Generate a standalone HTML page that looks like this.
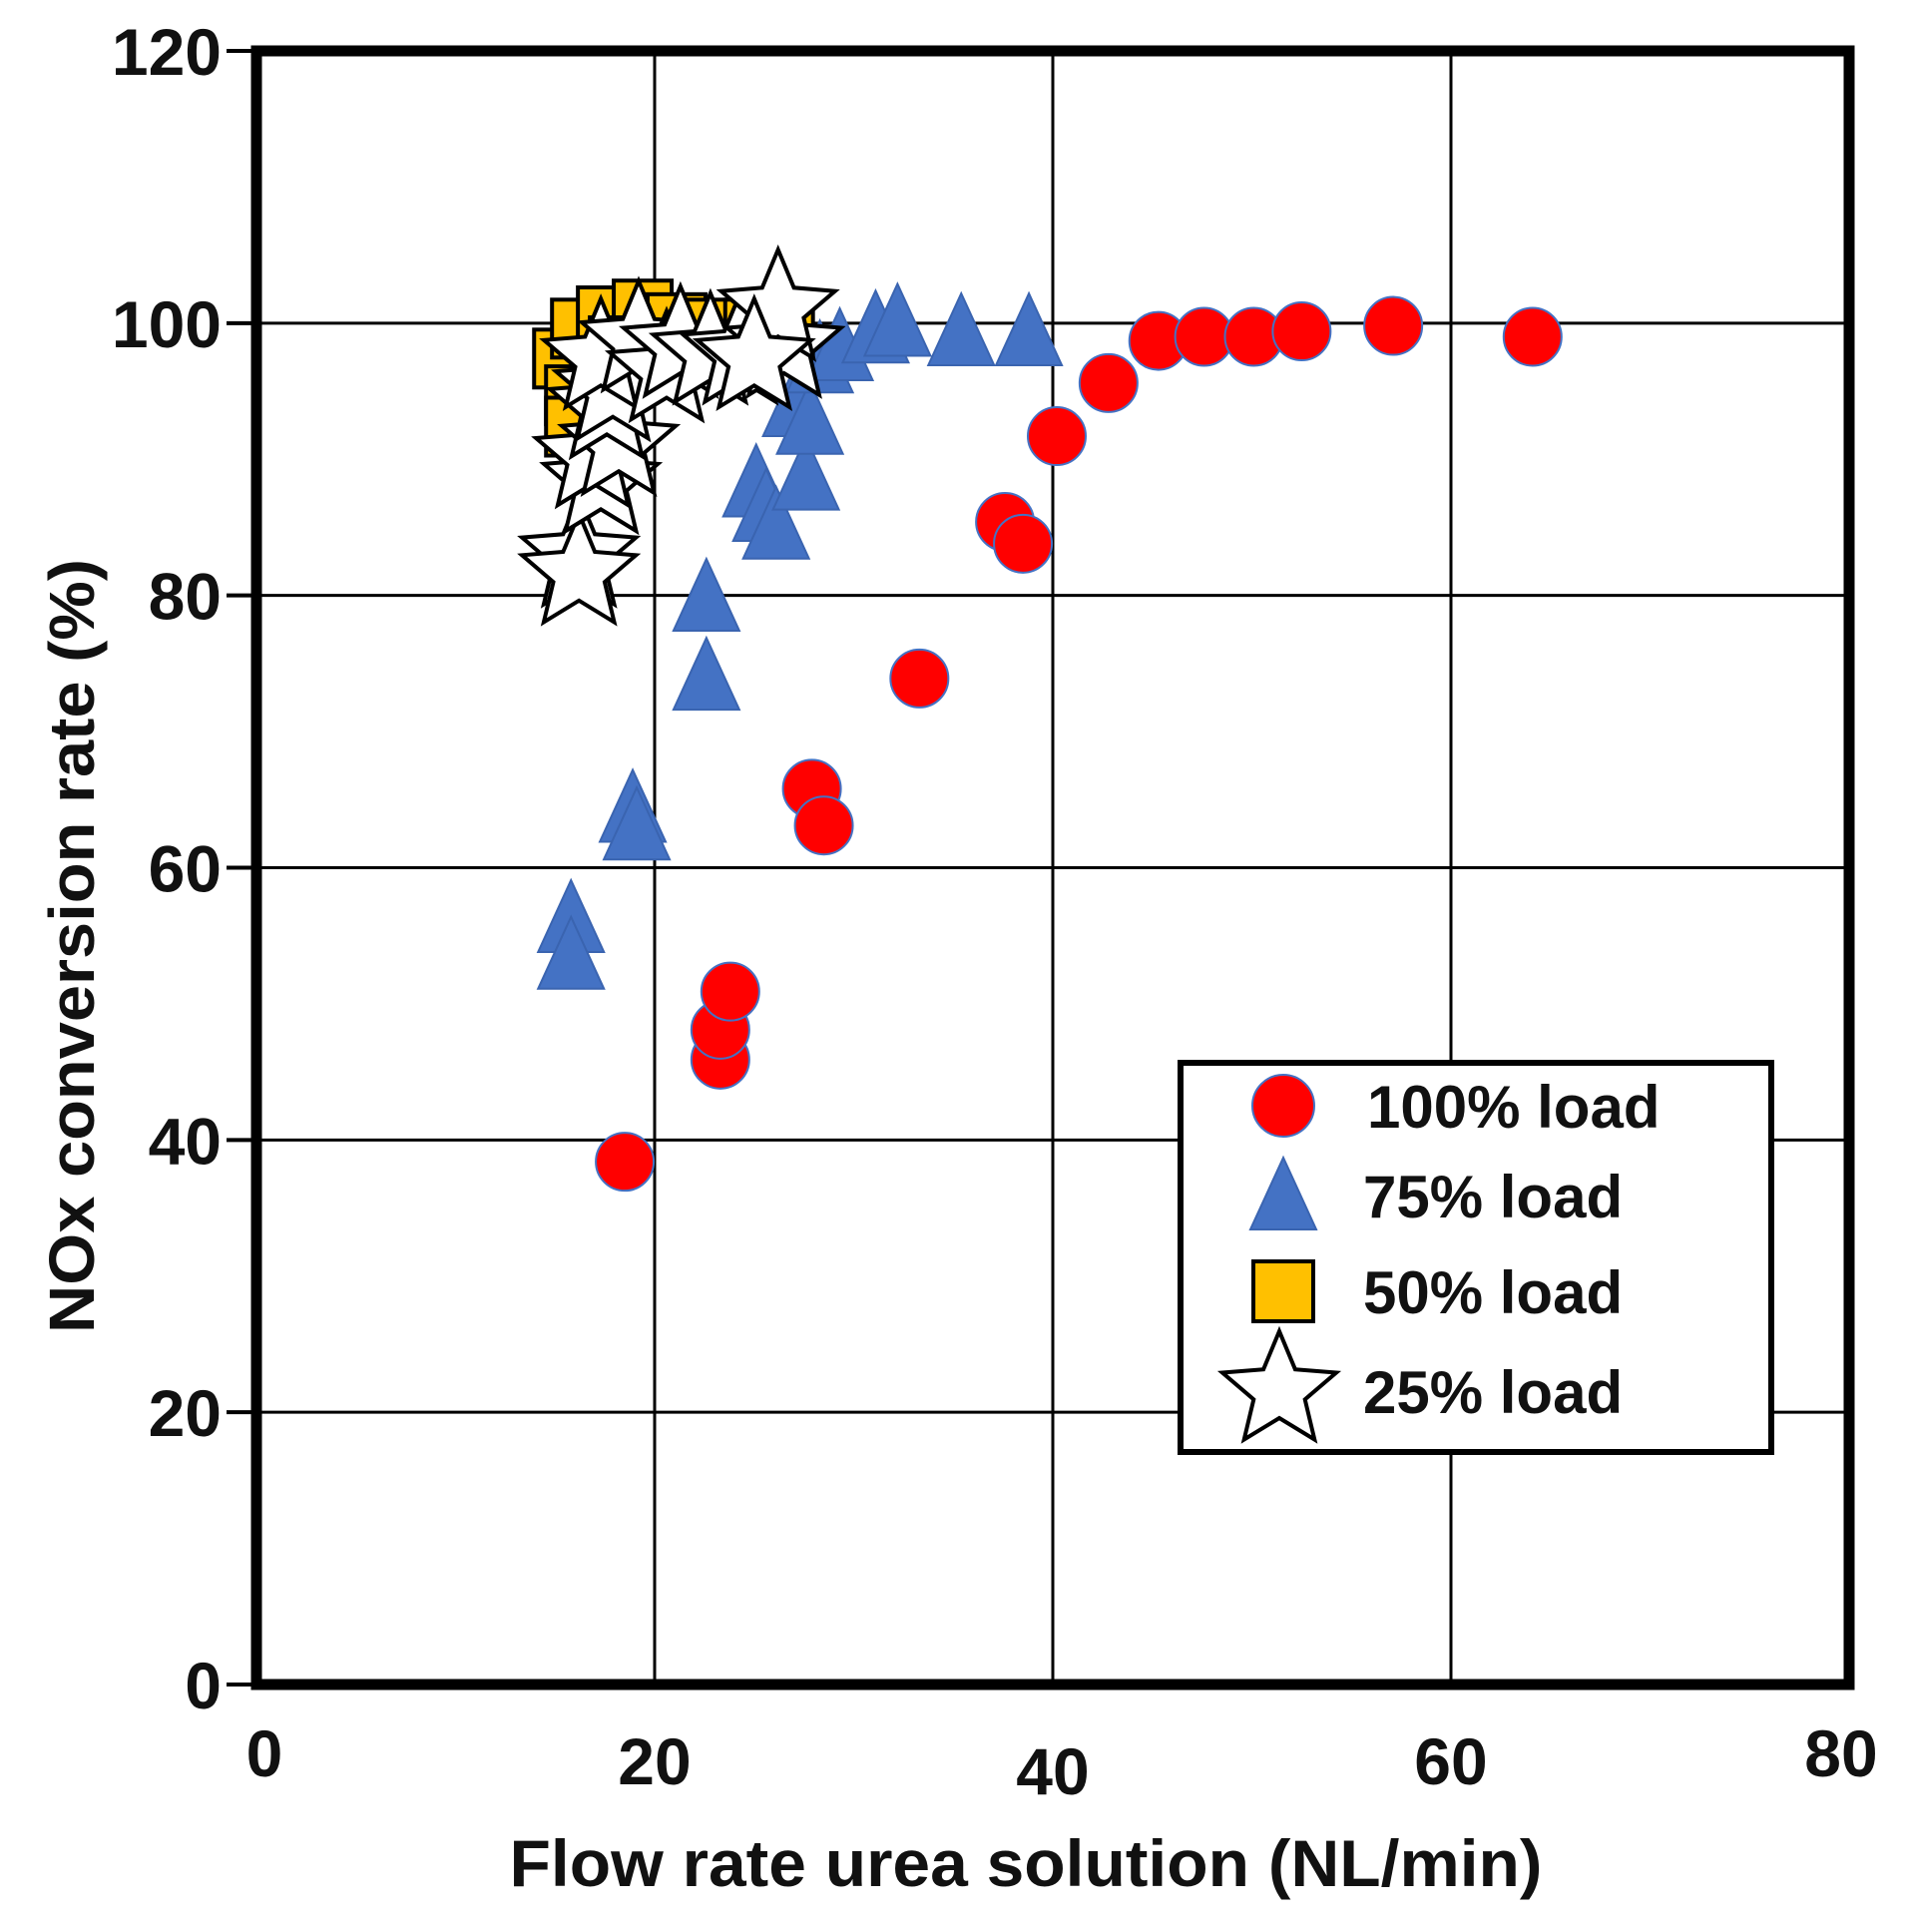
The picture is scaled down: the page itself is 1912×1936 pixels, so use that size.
<!DOCTYPE html>
<html><head><meta charset="utf-8"><style>
html,body{margin:0;padding:0;background:#fff;}
svg{display:block;font-family:"Liberation Sans",Arial,sans-serif;font-weight:bold;}
</style></head><body>
<svg id="chart" width="1912" height="1936" viewBox="0 0 1912 1936" xmlns="http://www.w3.org/2000/svg">
<g id="grid"></g>
<g id="marks"></g>
<g id="axes"></g>
<text x="0" y="0" transform="translate(94,948) rotate(-90)" text-anchor="middle" font-size="64" textLength="776" lengthAdjust="spacingAndGlyphs" fill="#111">NOx conversion rate (%)</text>
<text x="1028" y="1890" text-anchor="middle" font-size="66" textLength="1035" lengthAdjust="spacingAndGlyphs" fill="#111">Flow rate urea solution (NL/min)</text>
<g>
<rect x="1183" y="1065" width="592" height="390" fill="#fff" stroke="#000" stroke-width="6"/>
<g id="legend-items"></g>
</g>
</svg>
<script>
const xTicks=[0,20,40,60,80];
const yTicks=[0,20,40,60,80,100,120];
const xTickLabels=["0","20","40","60","80"];
const yTickLabels=["0","20","40","60","80","100","120"];
const load100X=[18.5,23.3,23.3,23.8,27.9,28.5,33.3,37.6,38.5,40.2,42.8,45.3,47.6,50.1,52.5,57.1,64.1];
const load100Y=[38.4,45.9,48.1,50.9,65.8,63.1,73.9,85.4,83.8,91.7,95.6,98.7,99.0,99.0,99.4,99.8,99.0];
const load75X=[15.8,15.8,18.9,19.1,22.6,22.6,25.1,25.6,26.1,27.6,27.1,27.8,28.3,29.3,31.1,32.2,35.4,38.8];
const load75Y=[56.3,53.6,64.4,63.1,79.9,74.1,88.3,86.5,85.2,88.8,94.2,92.9,97.4,98.3,99.6,100.1,99.4,99.4];
const load50X=[15.4,16.3,17.6,19.4,21.1,22.8,25.0,26.5,16.0,16.0,18.2];
const load50Y=[97.4,99.6,100.5,101.0,100.0,99.6,99.6,99.6,94.7,92.4,98.3];
const load25X=[16.2,16.2,17.3,16.9,18.2,17.6,17.9,17.3,19.2,20.6,21.3,22.8,24.3,26.5,26.2,25.0];
const load25Y=[82.9,81.6,88.3,90.2,91.1,93.8,95.1,97.4,98.7,96.5,98.3,97.8,97.8,98.3,101.0,97.4];
const legendLabels=["100% load","75% load","50% load","25% load"];

const NS="http://www.w3.org/2000/svg";
const X0=257,X1=1853,Y0=1688,Y1=51;
const xs=v=>X0+(v-0)/(80-0)*(X1-X0);
const ys=v=>Y0-(v-0)/(120-0)*(Y0-Y1);
function mk(tag,attrs,parent){const e=document.createElementNS(NS,tag);for(const k in attrs)e.setAttribute(k,attrs[k]);parent.appendChild(e);return e;}
const grid=document.getElementById('grid'),marks=document.getElementById('marks'),axes=document.getElementById('axes');
xTicks.forEach((t,i)=>{if(t>0&&t<80){const l=mk('line',{x1:xs(t),x2:xs(t),y1:Y1,y2:Y0,stroke:'#000','stroke-width':3},grid);

}});
yTicks.forEach((t,i)=>{if(t>0&&t<120){const l=mk('line',{x1:X0,x2:X1,y1:ys(t),y2:ys(t),stroke:'#000','stroke-width':3},grid);

}});
const fr=mk('rect',{x:X0,y:Y1,width:X1-X0,height:Y0-Y1,fill:'none',stroke:'#000','stroke-width':11},axes);


const xOff=[68,76,86,76,68];
xTicks.forEach((t,i)=>{const tx=mk('text',{x:xs(t)+(i==0?8:(i==4?-8:0)),y:Y0+xOff[i]+24,'text-anchor':'middle','font-size':66,fill:'#111'},axes);tx.textContent=xTickLabels[i];

});
yTicks.forEach((t,i)=>{mk('line',{x1:X0-30,x2:X0,y1:ys(t),y2:ys(t),stroke:'#000','stroke-width':4},axes);
const tx=mk('text',{x:222,y:ys(t)+24,'text-anchor':'end','font-size':66,fill:'#111'},axes);tx.textContent=yTickLabels[i];

});
function circle(cx,cy,r,p){return mk('circle',{cx,cy,r,fill:'#ff0000',stroke:'#4472c4','stroke-width':2},p);}
function tri(cx,cy,p){return mk('polygon',{points:`${cx},${cy-38} ${cx-33},${cy+34} ${cx+33},${cy+34}`,fill:'#4472c4',stroke:'#3a64b0','stroke-width':2},p);}
function sq(cx,cy,s,p){return mk('rect',{x:cx-s/2,y:cy-s/2,width:s,height:s,fill:'#ffc000',stroke:'#000','stroke-width':4},p);}
function star(cx,cy,R,p){let pts=[];for(let k=0;k<10;k++){const r=k%2?R*0.45:R;const a=-Math.PI/2+k*Math.PI/5;pts.push((cx+r*Math.cos(a)).toFixed(1)+','+(cy+r*Math.sin(a)).toFixed(1));}
return mk('polygon',{points:pts.join(' '),fill:'#fff',stroke:'#000','stroke-width':4,'stroke-linejoin':'miter'},p);}
load100X.forEach((v,i)=>{const e=circle(xs(v),ys(load100Y[i]),29,marks);

});
load75X.forEach((v,i)=>{const e=tri(xs(v),ys(load75Y[i]),marks);

});
load50X.forEach((v,i)=>{const e=sq(xs(v),ys(load50Y[i]),58,marks);

});
load25X.forEach((v,i)=>{const e=star(xs(v),ys(load25Y[i]),60,marks);

});
const li=document.getElementById('legend-items');
const ly=[1108,1198,1294,1394];
let m;
m=circle(1286,ly[0],31,li);


m=tri(1286,ly[1],li);


m=sq(1286,ly[2],60,li);


m=star(1282,ly[3],60,li);


legendLabels.forEach((s,i)=>{const tx=mk('text',{x:i==0?1370:1366,y:ly[i]+22,'font-size':60,fill:'#111'},li);tx.textContent=s;

});
</script>
</body></html>
